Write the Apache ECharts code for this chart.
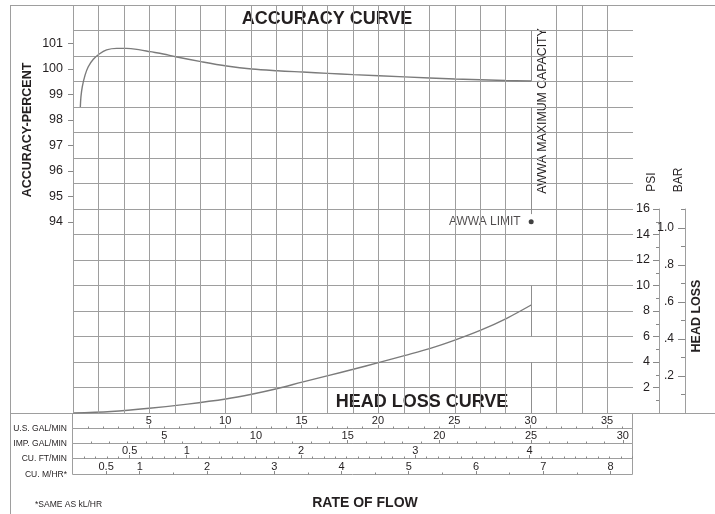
<!DOCTYPE html>
<html><head><meta charset="utf-8">
<script src="https://cdn.jsdelivr.net/npm/echarts@6/dist/echarts.min.js"></script>
<style>html,body{margin:0;padding:0;background:#fff}#c{width:715px;height:514px}</style>
</head><body><div id="c"></div>
<script>
// ---------------- data ----------------
const accuracyGpm = [0.48,0.52,0.61,0.79,1.0,1.33,1.72,2.2,2.86,3.5,4.39,5.04,5.91,6.72,8.38,10.06,11.7,13.4,15.04,16.7,18.35,21.7,25.0,28.3,30];
const accuracyPct = [98.5,98.9,99.3,99.75,100.08,100.37,100.58,100.74,100.80,100.80,100.74,100.67,100.58,100.47,100.28,100.11,99.99,99.92,99.87,99.82,99.77,99.68,99.6,99.54,99.52];
const headLossGpm = [0,2.5,5,7.5,10,11.7,13.4,15,16.7,18.35,20,21.7,23.4,25,26.7,28.4,30];
const headLossPsi = [0,0.12,0.37,0.7,1.1,1.47,1.92,2.42,2.93,3.43,3.95,4.5,5.07,5.72,6.5,7.43,8.47];
const awwaLimit = [30, 15];             // gpm, psi
const awwaUpperPct = [[101.5, 99.52], [98.5, 94.3]];  // segments of the max-capacity line (accuracy units)
const awwaLowerPsi = [[10, 6], [4, 0]];               // segments of the max-capacity line (psi units)
const accuracyTicks = [94,95,96,97,98,99,100,101];
const psiLabels = [2,4,6,8,10,12,14,16];
const psiMinor = [1,3,5,7,9,11,13,15];
const barLabels = [0.2,0.4,0.6,0.8,1.0];
const barMinor = [0.1,0.3,0.5,0.7,0.9,1.1];
const usGalLabels = [5,10,15,20,25,30,35];
const impGalLabels = [5,10,15,20,25,30];
const cuFtLabels = [0.5,1,2,3,4];
const cuMLabels = [0.5,1,2,3,4,5,6,7,8];
const rowNames = ['U.S. GAL/MIN','IMP. GAL/MIN','CU. FT/MIN','CU. M/HR*'];

// ---------------- constants ----------------
const XMAX = 110/3;          // US gal/min at right edge
const GRID_STEP = 5/3;       // vertical grid spacing, gpm
const GAL_PER_IMP = 1.20095, GAL_PER_CUFT = 7.48052, GAL_PER_M3H = 4.40287, PSI_PER_BAR = 14.5038;
const gridColor = '#9e9e9e', tickColor = '#888', curveColor = '#7b7b7b', textColor = '#231f20';
const font = "'Liberation Sans', Arial, sans-serif";

const gridGpm = [];
for (let k = 0; k <= 22; k++) { const v = k*GRID_STEP; if (Math.abs(v-30) > 1e-6) gridGpm.push(v); }

// ---------------- layout ----------------
const grids = [
  {left:73, top:5, width:560, height:408},
  {left:73, top:209, width:560, height:204}
];
const rowTops = [413.5, 428.5, 443.5, 458.5], rowHs = [15, 15, 15, 16];
rowTops.forEach((t,i)=>grids.push({left:72.5, top:t, width:560, height:rowHs[i], show:true, borderColor:gridColor, borderWidth:1, backgroundColor:'transparent'}));

const noMinor = {show:false};
const xAxes = [
  {gridIndex:0, type:'value', min:0, max:XMAX, show:false, axisLine:{onZero:false}},
  {gridIndex:1, type:'value', min:0, max:XMAX, show:false, axisLine:{onZero:false}}
];
function rowAxes(gi, factor, labels, minorStep) {
  const max = XMAX/factor;
  const minor = [];
  for (let k = 1; k*minorStep < max; k++) {
    const v = +(k*minorStep).toFixed(4);
    if (!labels.some(l => Math.abs(l-v) < 1e-6)) minor.push(v);
  }
  xAxes.push({gridIndex:gi, type:'value', min:0, max, position:'bottom',
    axisLine:{show:false, onZero:false}, splitLine:{show:false}, minorTick:noMinor,
    axisTick:{show:true, inside:true, length:3.5, customValues:labels, lineStyle:{color:tickColor}},
    axisLabel:{show:true, inside:true, margin:2, customValues:labels, fontSize:11, color:textColor, fontFamily:font}});
  xAxes.push({gridIndex:gi, type:'value', min:0, max, position:'bottom',
    axisLine:{show:false, onZero:false}, splitLine:{show:false}, minorTick:noMinor,
    axisTick:{show:true, inside:true, length:2, customValues:minor, lineStyle:{color:tickColor}},
    axisLabel:{show:false}});
}
rowAxes(2, 1, usGalLabels, 1);
rowAxes(3, GAL_PER_IMP, impGalLabels, 1);
rowAxes(4, GAL_PER_CUFT, cuFtLabels, 0.1);
rowAxes(5, GAL_PER_M3H, cuMLabels, 0.5);

const BARMAX = 16/PSI_PER_BAR;
const yAxes = [
  {gridIndex:0, type:'value', min:86.5, max:102.5, position:'left',
    axisLine:{show:false, onZero:false}, splitLine:{show:false}, minorTick:noMinor,
    axisTick:{show:true, length:5, customValues:accuracyTicks, lineStyle:{color:tickColor}},
    axisLabel:{show:true, margin:10, customValues:accuracyTicks, fontSize:12.5, color:textColor, fontFamily:font}},
  {gridIndex:0, type:'value', min:0, max:16, interval:1, position:'right',
    axisLine:{show:false, onZero:false}, axisTick:{show:false}, axisLabel:{show:false}, minorTick:noMinor,
    splitLine:{show:true, lineStyle:{color:gridColor, width:1}}},
  {gridIndex:1, type:'value', min:0, max:16, position:'right', offset:26,
    axisLine:{show:true, onZero:false, lineStyle:{color:gridColor}}, splitLine:{show:false}, minorTick:noMinor,
    axisTick:{show:true, inside:true, length:6, customValues:psiLabels, lineStyle:{color:tickColor}},
    axisLabel:{show:true, inside:true, margin:9, customValues:psiLabels, fontSize:12.5, color:textColor, fontFamily:font}},
  {gridIndex:1, type:'value', min:0, max:16, position:'right', offset:26,
    axisLine:{show:false, onZero:false}, splitLine:{show:false}, minorTick:noMinor,
    axisTick:{show:true, inside:true, length:3, customValues:psiMinor, lineStyle:{color:tickColor}},
    axisLabel:{show:false}},
  {gridIndex:1, type:'value', min:0, max:BARMAX, position:'right', offset:52,
    axisLine:{show:true, onZero:false, lineStyle:{color:gridColor}}, splitLine:{show:false}, minorTick:noMinor,
    axisTick:{show:true, inside:true, length:7, customValues:barLabels, lineStyle:{color:tickColor}},
    axisLabel:{show:true, inside:true, margin:11, customValues:barLabels, fontSize:12, color:textColor, fontFamily:font,
      formatter:v => v >= 1 ? v.toFixed(1) : '.' + Math.round(v*10)}},
  {gridIndex:1, type:'value', min:0, max:BARMAX, position:'right', offset:52,
    axisLine:{show:false, onZero:false}, splitLine:{show:false}, minorTick:noMinor,
    axisTick:{show:true, inside:true, length:4, customValues:barMinor, lineStyle:{color:tickColor}},
    axisLabel:{show:false}}
];
for (let g = 2; g <= 5; g++) yAxes.push({gridIndex:g, type:'value', min:0, max:1, show:false, axisLine:{onZero:false}});

const txt = (text, x, y, size, bold, extra) => Object.assign({
  type:'text', x, y, silent:true,
  style:{text, x:0, y:0, fill:textColor, font:(bold?'bold ':'') + size + 'px ' + font, align:'center', verticalAlign:'middle'}
}, extra || {});
const hline = (x1, x2, y) => ({type:'line', silent:true, shape:{x1, y1:y, x2, y2:y}, style:{stroke:gridColor, lineWidth:1}});
const vline = (x, y1, y2) => ({type:'line', silent:true, shape:{x1:x, y1, x2:x, y2}, style:{stroke:gridColor, lineWidth:1}});

const graphics = [
  hline(10, 715, 5.5), hline(10, 715, 413.5), vline(10.5, 5, 514),
  txt('ACCURACY CURVE', 327, 19.5, 18, true),
  txt('HEAD LOSS CURVE', 422, 402, 18, true),
  txt('RATE OF FLOW', 365, 503, 14, true),
  txt('ACCURACY-PERCENT', 28, 130, 12.5, true, {rotation:Math.PI/2}),
  txt('HEAD LOSS', 697, 316, 12.5, true, {rotation:Math.PI/2}),
  txt('PSI', 652, 182, 12, false, {rotation:Math.PI/2}),
  txt('BAR', 679, 180, 12, false, {rotation:Math.PI/2}),
  txt('AWWA MAXIMUM CAPACITY', 543, 111, 12.3, false, {rotation:Math.PI/2})
];
const note = txt('*SAME AS kL/HR', 35, 505, 8.5, false); note.style.align = 'left'; graphics.push(note);
const rowLineY = [428.5, 443.5, 458.5, 474.5];
rowNames.forEach((n,i) => { const t = txt(n, 67, rowLineY[i], 8.5, false); t.style.align = 'right'; graphics.push(t); });

const seg = (pairs, x) => pairs.map(p => [{coord:[x, p[0]]}, {coord:[x, p[1]]}]);

const option = {
  animation:false,
  backgroundColor:'#fff',
  grid: grids, xAxis: xAxes, yAxis: yAxes,
  graphic: graphics,
  series: [
    {type:'line', xAxisIndex:0, yAxisIndex:0, data:[], z:1, silent:true,
      markLine:{silent:true, symbol:['none','none'], label:{show:false}, emphasis:{disabled:true},
        lineStyle:{color:gridColor, width:1, type:'solid'},
        data: gridGpm.map(v => ({xAxis:v}))}},
    {type:'line', name:'accuracy', xAxisIndex:0, yAxisIndex:0, z:3, silent:true,
      data: accuracyGpm.map((g,i)=>[g, accuracyPct[i]]),
      smooth:0.35, showSymbol:false, symbol:'none',
      lineStyle:{color:curveColor, width:1.4},
      markLine:{silent:true, symbol:['none','none'], label:{show:false}, emphasis:{disabled:true},
        lineStyle:{color:'#8f8f8f', width:1, type:'solid'},
        data: seg(awwaUpperPct, awwaLimit[0])}},
    {type:'line', name:'headloss', xAxisIndex:1, yAxisIndex:2, z:3, silent:true,
      data: headLossGpm.map((g,i)=>[g, headLossPsi[i]]),
      smooth:0.35, showSymbol:false, symbol:'none',
      lineStyle:{color:curveColor, width:1.4},
      markLine:{silent:true, symbol:['none','none'], label:{show:false}, emphasis:{disabled:true},
        lineStyle:{color:'#8f8f8f', width:1, type:'solid'},
        data: seg(awwaLowerPsi, awwaLimit[0])}},
    {type:'scatter', xAxisIndex:1, yAxisIndex:2, z:4, silent:true,
      data:[awwaLimit], symbolSize:5, itemStyle:{color:'#111'},
      label:{show:true, position:'left', distance:8, formatter:'AWWA LIMIT', fontSize:12, color:textColor, fontFamily:font}}
  ]
};
const chart = echarts.init(document.getElementById('c'));
chart.setOption(option);
</script></body></html>
